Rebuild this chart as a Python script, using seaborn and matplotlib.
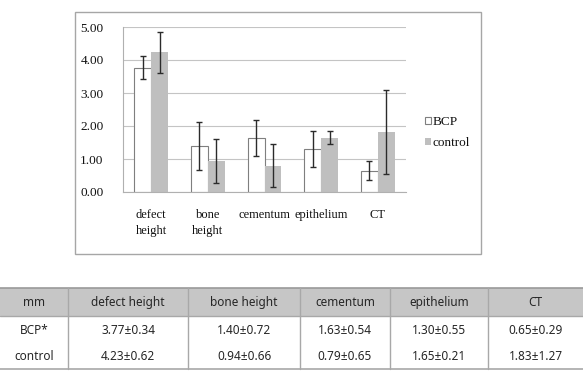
import pandas as pd
import seaborn as sns
import matplotlib.pyplot as plt
from matplotlib.patches import Rectangle

categories = ['defect\nheight', 'bone\nheight', 'cementum', 'epithelium', 'CT']
groups = ['BCP', 'control']
bcp_mean = [3.77, 1.40, 1.63, 1.30, 0.65]
bcp_sd = [0.34, 0.72, 0.54, 0.55, 0.29]
ctrl_mean = [4.23, 0.94, 0.79, 1.65, 1.83]
ctrl_sd = [0.62, 0.66, 0.65, 0.21, 1.27]

table_header = ['mm', 'defect height', 'bone height', 'cementum', 'epithelium', 'CT']
table_rows = ['BCP*', 'control']

df = pd.DataFrame({
    'category': categories * 2,
    'group': [groups[0]] * 5 + [groups[1]] * 5,
    'value': bcp_mean + ctrl_mean,
})

sns.set_style('white')
serif = ['Liberation Serif', 'DejaVu Serif']
plt.rcParams['font.family'] = serif
plt.rcParams['xtick.labelcolor'] = '#111111'
plt.rcParams['ytick.labelcolor'] = '#111111'
plt.rcParams['legend.labelcolor'] = '#111111'

W, H = 583, 372
fig = plt.figure(figsize=(W / 100, H / 100), dpi=100)

# chart frame
fig.patches.append(Rectangle((75 / W, 1 - 254 / H), 406 / W, 242 / H,
                             transform=fig.transFigure, fill=False,
                             edgecolor='#a6a6a6', linewidth=1))

ax = fig.add_axes([123 / W, 1 - 192 / H, 283 / W, 165 / H])
sns.barplot(data=df, x='category', y='value', hue='group',
            palette=['white', '#bfbfbf'], errorbar=None, width=0.6,
            linewidth=0, ax=ax)

for p in ax.containers[0]:
    p.set_edgecolor('#7f7f7f')
    p.set_linewidth(0.8)

for cont, sd in zip(ax.containers, [bcp_sd, ctrl_sd]):
    xs = [p.get_x() + p.get_width() / 2 for p in cont]
    ys = [p.get_height() for p in cont]
    ax.errorbar(xs, ys, yerr=sd, fmt='none', ecolor='#2b2b2b',
                elinewidth=1, capsize=2, capthick=1, zorder=5)

ax.set_ylim(0, 5)
ax.set_xlim(-0.5, 4.5)
ax.set_yticks([0, 1, 2, 3, 4, 5])
ax.set_yticklabels([f'{v:.2f}' for v in range(6)], family=serif)
ax.set_xlabel('')
ax.set_ylabel('')
ax.yaxis.grid(True, color='#c4c4c4', linewidth=0.8)
ax.set_axisbelow(True)
for s in ['top', 'right']:
    ax.spines[s].set_visible(False)
ax.spines['left'].set_color('#b0b0b0')
ax.spines['bottom'].set_color('#b0b0b0')
ax.tick_params(axis='y', length=3, color='#b0b0b0', pad=11, labelsize=9.5)
ax.tick_params(axis='x', which='major', length=0, pad=12, labelsize=9)
ax.set_xticks([i - 0.5 for i in range(6)], minor=True)
ax.tick_params(axis='x', which='minor', length=5, color='#b0b0b0')
for t in ax.get_xticklabels():
    t.set_linespacing(1.5)

leg = ax.legend(loc='center left', bbox_to_anchor=(425 / W, 1 - 132.5 / H),
                bbox_transform=fig.transFigure, frameon=False, fontsize=9.5,
                handlelength=0.45, handleheight=0.45, handletextpad=0.1,
                labelspacing=0.7, borderpad=0, borderaxespad=0)
leg.legend_handles[0].set_edgecolor('#7f7f7f')
leg.legend_handles[0].set_linewidth(0.8)

# table
tax = fig.add_axes([0, 0, 1, 1])
tax.set_xlim(0, W)
tax.set_ylim(H, 0)
tax.axis('off')
col_edges = [0, 68, 188, 300, 390, 488, W]
y_top, y_head, y_bot = 288, 316, 369
tax.add_patch(Rectangle((0, y_top), W, y_head - y_top, facecolor='#c6c6c6', edgecolor='none'))
tax.plot([0, W], [y_top, y_top], color='#999999', lw=1.2)
tax.plot([0, W], [y_head, y_head], color='#a8a8a8', lw=1)
tax.plot([0, W], [y_bot, y_bot], color='#a8a8a8', lw=1.2)
for x in col_edges[1:-1]:
    tax.plot([x, x], [y_top, y_bot], color='#a8a8a8', lw=1)

tfont = dict(family=['Noto Sans', 'DejaVu Sans'], fontsize=8.5, color='#262626',
             ha='center', va='center')
centers = [(a + b) / 2 for a, b in zip(col_edges[:-1], col_edges[1:])]
for cx, txt in zip(centers, table_header):
    tax.text(cx, 302.5, txt, **tfont)
for ry, name, m, s in [(330, table_rows[0], bcp_mean, bcp_sd),
                       (357, table_rows[1], ctrl_mean, ctrl_sd)]:
    tax.text(centers[0], ry, name, **tfont)
    for cx, mv, sv in zip(centers[1:], m, s):
        tax.text(cx, ry, f'{mv:.2f}±{sv:.2f}', **tfont)

fig.savefig('out.png', dpi=100)
